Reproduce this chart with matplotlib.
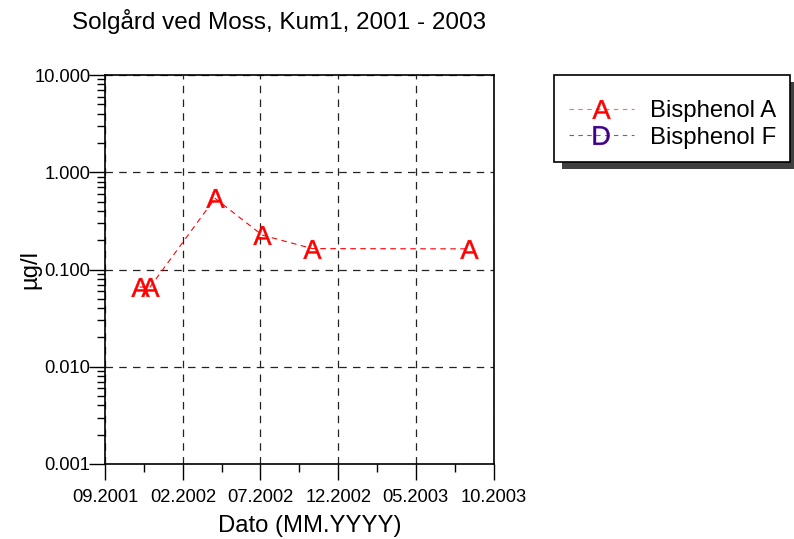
import datetime as dt

import matplotlib
matplotlib.use("Agg")
import matplotlib.dates as mdates
import matplotlib.pyplot as plt
from matplotlib.lines import Line2D
from matplotlib.patches import Rectangle
from matplotlib.ticker import FixedLocator, LogLocator, NullFormatter

plt.rcParams["font.family"] = ["Liberation Sans", "DejaVu Sans"]
plt.rcParams["mathtext.fontset"] = "custom"
plt.rcParams["mathtext.rm"] = "Liberation Sans"

# Bisphenol A samples
dates_a = [dt.date(2001, 11, 8), dt.date(2001, 11, 28), dt.date(2002, 4, 4),
           dt.date(2002, 7, 5), dt.date(2002, 10, 11), dt.date(2003, 8, 13)]
values_a = [0.066, 0.066, 0.54, 0.226, 0.164, 0.163]

x_ticks = [dt.date(2001, 9, 1), dt.date(2002, 2, 1), dt.date(2002, 7, 1),
           dt.date(2002, 12, 1), dt.date(2003, 5, 1), dt.date(2003, 10, 1)]
x_ticklabels = ["09.2001", "02.2002", "07.2002", "12.2002", "05.2003", "10.2003"]
y_ticks = [0.001, 0.01, 0.1, 1, 10]
y_ticklabels = ["0.001", "0.010", "0.100", "1.000", "10.000"]

# label, marker letter, marker colour, legend line colour
series = [("Bisphenol A", "A", "#ff0000", "#ff6a6a"),
          ("Bisphenol F", "D", "#40008c", "#7a55c0")]

W, H = 794, 539
fig = plt.figure(figsize=(W / 100, H / 100), dpi=100)
ax = fig.add_axes([105 / W, 75 / H, 389 / W, 389 / H])

xa = mdates.date2num(dates_a)
ax.plot(xa, values_a, color="#ff0000", lw=0.8, dashes=(5, 4),
        marker=r"$\mathrm{A}$", ms=13.5, mec="#ff0000", mfc="#ff0000", mew=0.3)

ax.set_yscale("log")
ax.set_ylim(0.001, 10)
xt = mdates.date2num(x_ticks)
ax.set_xlim(xt[0], xt[-1])
ax.set_xticks(xt)
ax.set_xticklabels(x_ticklabels)
ax.xaxis.set_minor_locator(FixedLocator([(a + b) / 2 for a, b in zip(xt[:-1], xt[1:])]))
ax.set_yticks(y_ticks)
ax.set_yticklabels(y_ticklabels)
ax.yaxis.set_minor_locator(LogLocator(base=10, subs=range(2, 10)))
ax.yaxis.set_minor_formatter(NullFormatter())

ax.tick_params(axis="both", which="major", direction="out", length=11.5, width=1,
               labelsize=13.2)
ax.tick_params(axis="both", which="minor", direction="out", length=6, width=1)
ax.tick_params(axis="y", which="major", pad=-1)
ax.tick_params(axis="x", which="major", pad=6.5)
for s in ax.spines.values():
    s.set_linewidth(1.2)

ax.grid(True, which="major", color="#222222", lw=0.9, dashes=(6, 5))

ax.set_xlabel("Dato (MM.YYYY)", fontsize=17.2)
ax.xaxis.label.set_va("center")
ax.xaxis.set_label_coords(0.527, -0.159)
ax.set_ylabel("µg/l", fontsize=17.2)
ax.yaxis.label.set_va("center")
ax.yaxis.set_label_coords(-0.193, 0.5)

fig.text(279 / W, 1 - 22 / H, "Solgård ved Moss, Kum1, 2001 - 2003",
         fontsize=17.5, ha="center", va="center")

# legend box with drop shadow
fig.patches.append(Rectangle((562 / W, 1 - 169 / H), 236 / W, 87 / H,
                             transform=fig.transFigure, facecolor="#404040",
                             edgecolor="none", zorder=0))
fig.patches.append(Rectangle((554 / W, 1 - 162 / H), 236 / W, 87 / H,
                             transform=fig.transFigure, facecolor="white",
                             edgecolor="black", lw=1.2, zorder=1))

handles = [Line2D([], [], color=lc, lw=0.8, dashes=(4, 4),
                  marker=r"$\mathrm{%s}$" % m, ms=13.5, mec=c, mfc=c, mew=0.3)
           for _, m, c, lc in series]
fig.legend(handles, [s[0] for s in series], loc="upper left",
           bbox_to_anchor=(569 / W, 1 - 100 / H), fontsize=17.2, frameon=False,
           borderpad=0, labelspacing=0.2, handlelength=2.7, handletextpad=0.7,
           borderaxespad=0)

fig.savefig("out.png", dpi=100)
